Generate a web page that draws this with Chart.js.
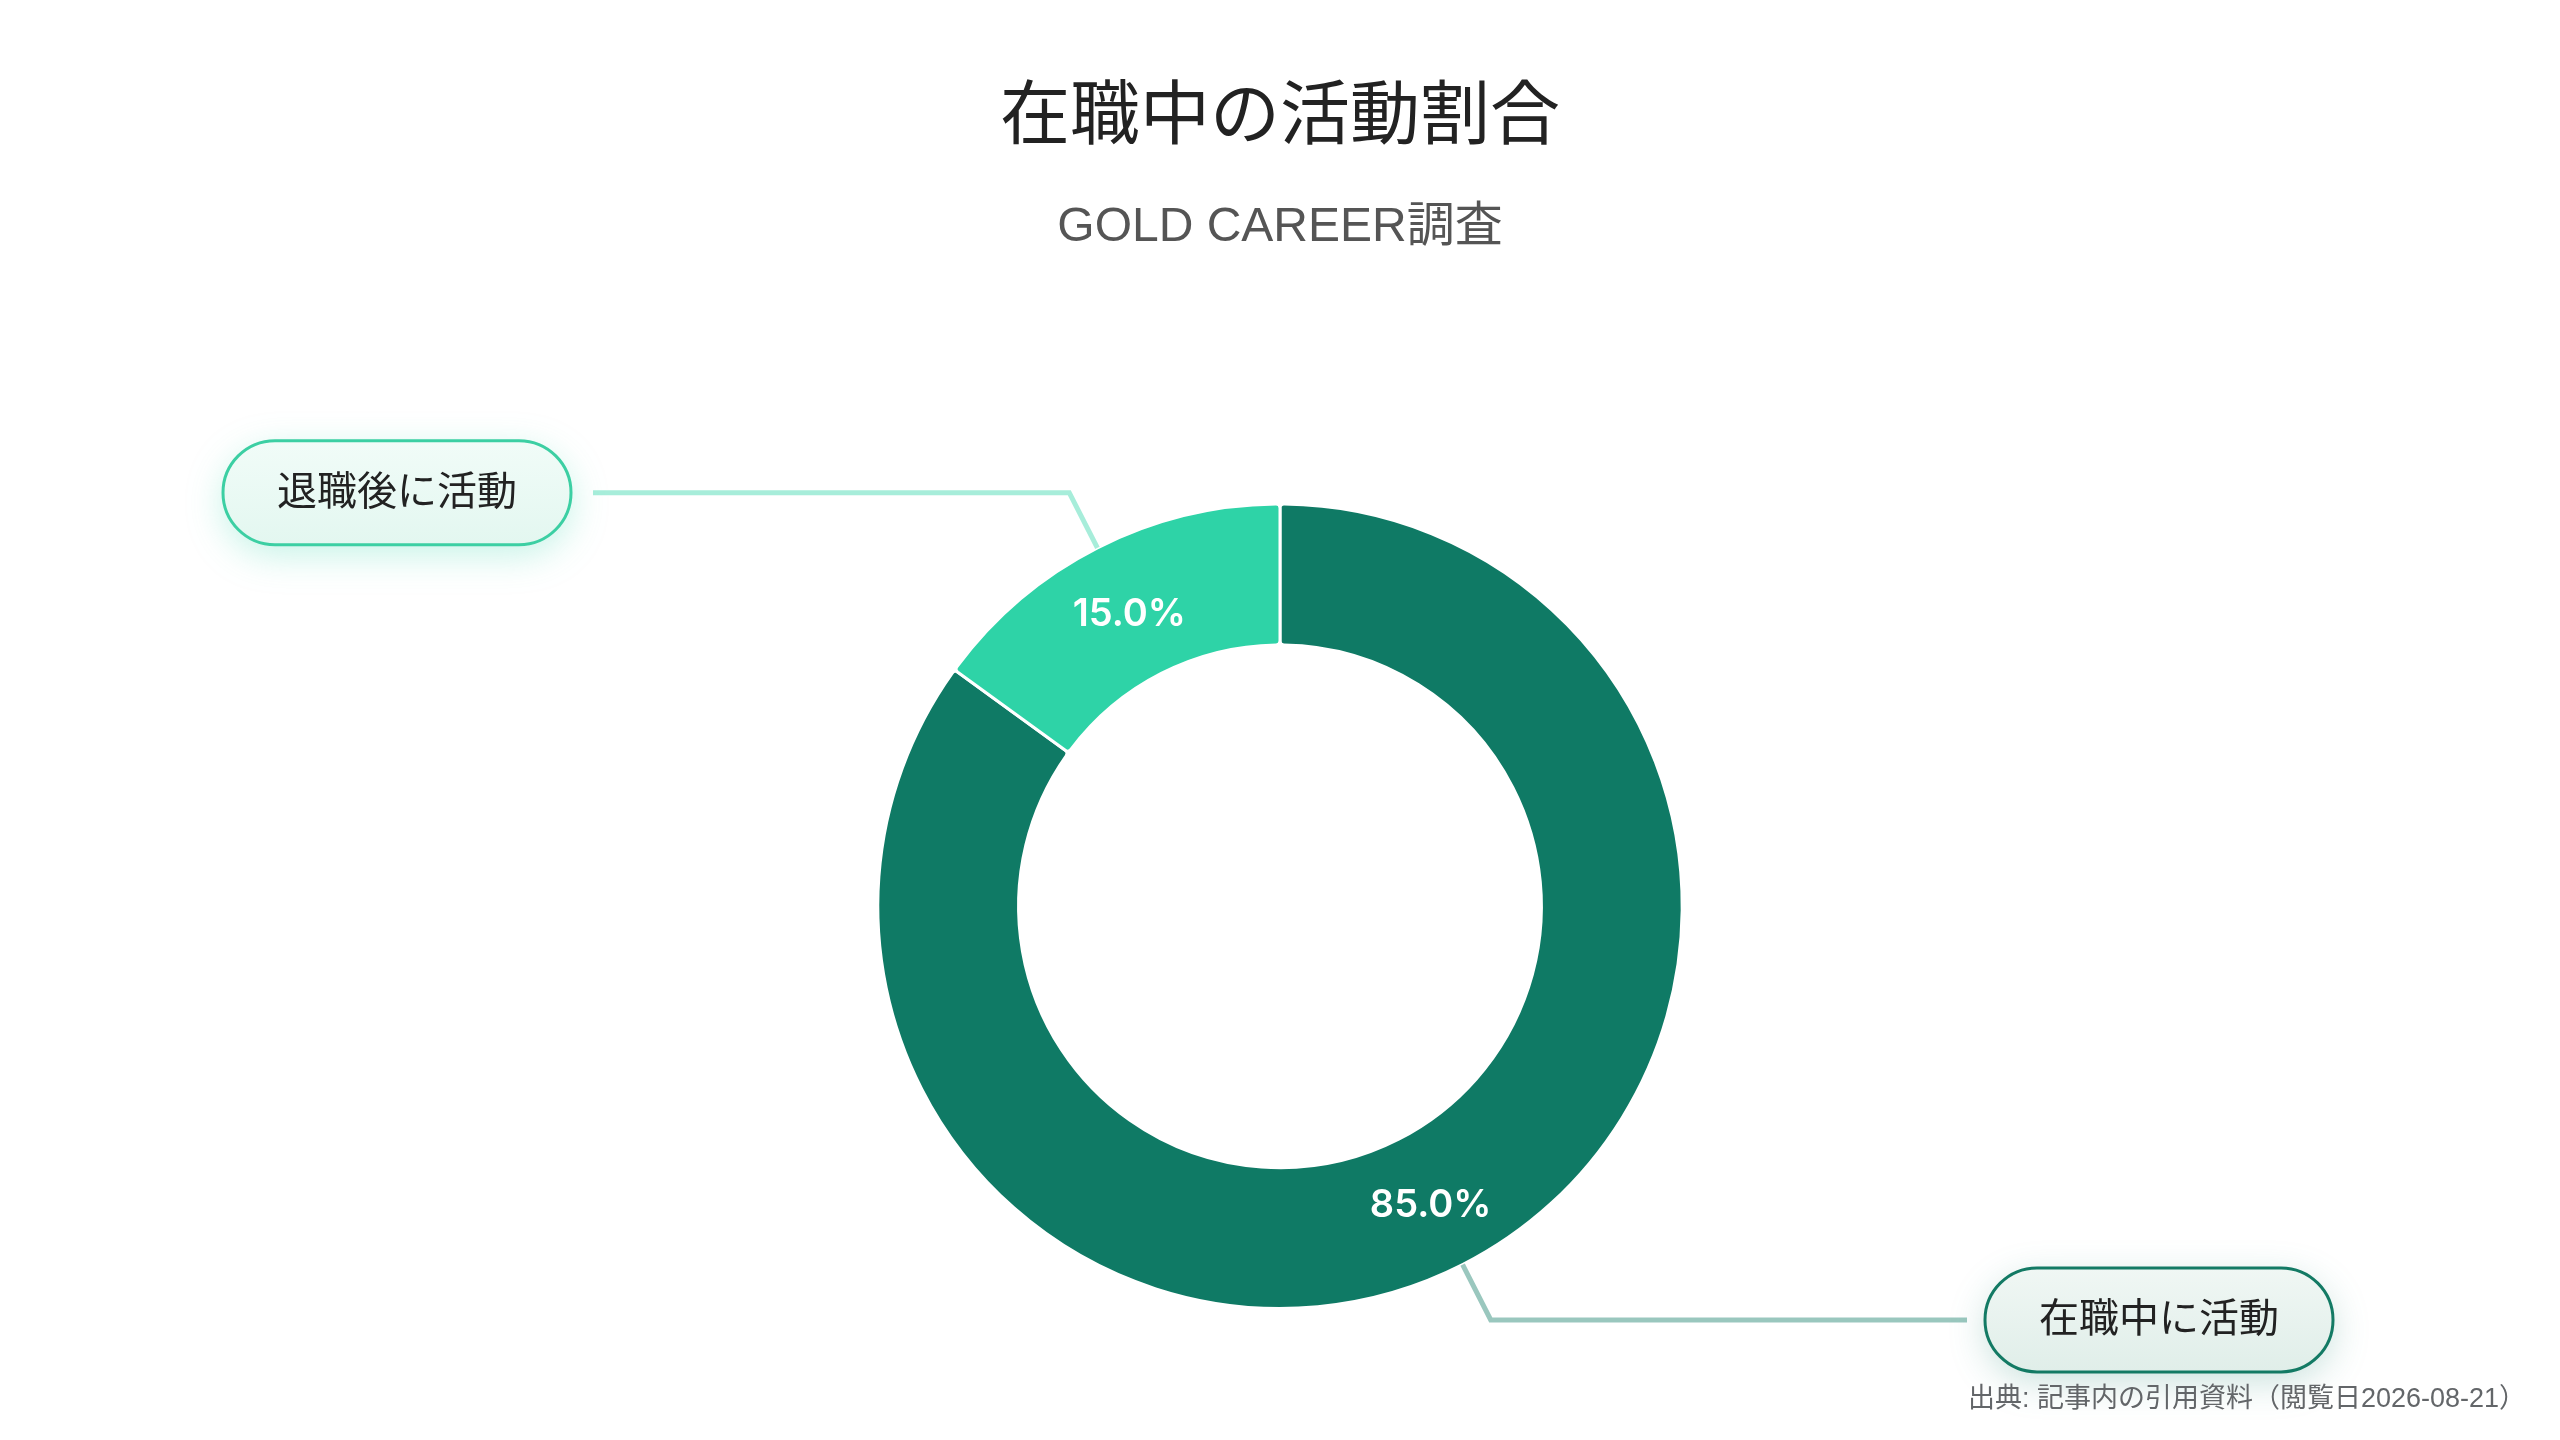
<!DOCTYPE html>
<html lang="ja">
<head>
<meta charset="utf-8">
<title>在職中の活動割合</title>
<script src="https://cdn.jsdelivr.net/npm/chart.js@4.4.1/dist/chart.umd.min.js"></script>
<style>
    html, body { margin: 0; padding: 0; background: #ffffff; }
    #wrap { width: 2560px; height: 1440px; position: relative; }
</style>
</head>
<body>
<div id="wrap"><canvas id="activityChart"></canvas></div>
<script>
const categories = ['在職中に活動', '退職後に活動'];
const shares = [85, 15];
const chartTitle = '在職中の活動割合';
const chartSubtitle = 'GOLD CAREER調査';
const sourceNote = '出典: 記事内の引用資料（閲覧日2026-08-21）';

const segmentColors = ['#0f7a65', '#2ed3a7'];
const leaderColors = ['rgba(15,122,101,0.42)', 'rgba(46,211,167,0.42)'];
const boxBorders = ['#137a64', '#3ccfa3'];
const boxFills = [['#f0f7f4', '#e0eee9'], ['#f1fcf8', '#e3f7f0']];
const boxShadows = ['rgba(15,122,101,0.22)', 'rgba(46,211,167,0.28)'];

const FONT = '"Liberation Sans", "Noto Sans CJK JP", sans-serif';
const NUM_FONT = 'Inter, "Noto Sans", sans-serif';

function roundedPill(ctx, x, y, w, h) {
    const r = h / 2;
    ctx.beginPath();
    ctx.moveTo(x + r, y);
    ctx.lineTo(x + w - r, y);
    ctx.arc(x + w - r, y + r, r, -Math.PI / 2, Math.PI / 2);
    ctx.lineTo(x + r, y + h);
    ctx.arc(x + r, y + r, r, Math.PI / 2, Math.PI * 1.5);
    ctx.closePath();
}

const calloutPlugin = {
    id: 'callouts',
    afterDatasetsDraw(chart) {
        const ctx = chart.ctx;
        const meta = chart.getDatasetMeta(0);
        const total = shares.reduce((a, b) => a + b, 0);

        meta.data.forEach((arc, i) => {
            const p = arc.getProps(['x', 'y', 'startAngle', 'endAngle', 'innerRadius', 'outerRadius'], true);
            const mid = (p.startAngle + p.endAngle) / 2;
            const cos = Math.cos(mid);
            const sin = Math.sin(mid);

            // percentage inside the ring
            const rMid = (p.innerRadius + p.outerRadius) / 2;
            ctx.save();
            ctx.font = '600 38px ' + NUM_FONT;
            ctx.fillStyle = '#ffffff';
            ctx.textAlign = 'center';
            ctx.textBaseline = 'middle';
            ctx.fillText((shares[i] / total * 100).toFixed(1) + '%', p.x + cos * rMid, p.y + sin * rMid + 4);
            ctx.restore();

            // leader line
            const sx = p.x + cos * p.outerRadius;
            const sy = p.y + sin * p.outerRadius;
            const ex = p.x + cos * (p.outerRadius + 62);
            const ey = p.y + sin * (p.outerRadius + 62);
            const side = cos >= 0 ? 1 : -1;
            const hx = p.x + side * 687;

            ctx.save();
            ctx.strokeStyle = leaderColors[i];
            ctx.lineWidth = 5;
            ctx.lineJoin = 'miter';
            ctx.beginPath();
            ctx.moveTo(sx, sy);
            ctx.lineTo(ex, ey);
            ctx.lineTo(hx, ey);
            ctx.stroke();
            ctx.restore();

            // label box
            const bw = 348, bh = 104;
            const bx = side > 0 ? hx + 18 : hx - 22 - bw;
            const by = ey - bh / 2;

            ctx.save();
            roundedPill(ctx, bx, by, bw, bh);
            const grad = ctx.createLinearGradient(0, by, 0, by + bh);
            grad.addColorStop(0, boxFills[i][0]);
            grad.addColorStop(1, boxFills[i][1]);
            ctx.fillStyle = grad;
            ctx.shadowColor = boxShadows[i];
            ctx.shadowBlur = 36;
            ctx.shadowOffsetY = 10;
            ctx.fill();
            ctx.shadowColor = 'transparent';
            ctx.lineWidth = 3;
            ctx.strokeStyle = boxBorders[i];
            ctx.stroke();

            ctx.font = '40px ' + FONT;
            ctx.fillStyle = '#222222';
            ctx.textAlign = 'center';
            ctx.textBaseline = 'middle';
            ctx.fillText(categories[i], bx + bw / 2, by + bh / 2 + 1);
            ctx.restore();
        });

        // source note
        ctx.save();
        ctx.font = '27px ' + FONT;
        ctx.fillStyle = '#636669';
        ctx.textAlign = 'right';
        ctx.textBaseline = 'middle';
        ctx.fillText(sourceNote, 2526, 1400);
        ctx.restore();
    }
};

new Chart(document.getElementById('activityChart'), {
    type: 'doughnut',
    data: {
        labels: categories,
        datasets: [{
            data: shares,
            backgroundColor: segmentColors,
            borderColor: '#ffffff',
            borderWidth: 3,
            borderRadius: 4,
            hoverOffset: 0
        }]
    },
    options: {
        responsive: true,
        maintainAspectRatio: false,
        animation: false,
        cutout: '65%',
        layout: { padding: { top: 0, bottom: 130, left: 0, right: 0 } },
        plugins: {
            legend: { display: false },
            tooltip: { enabled: false },
            title: {
                display: true,
                text: chartTitle,
                color: '#222222',
                font: { family: FONT, size: 70, weight: 'normal' },
                padding: { top: 78, bottom: 0 }
            },
            subtitle: {
                display: true,
                text: chartSubtitle,
                color: '#555555',
                font: { family: FONT, size: 48, weight: 'normal' },
                padding: { top: 37, bottom: 246 }
            }
        }
    },
    plugins: [calloutPlugin]
});
</script>
</body>
</html>
